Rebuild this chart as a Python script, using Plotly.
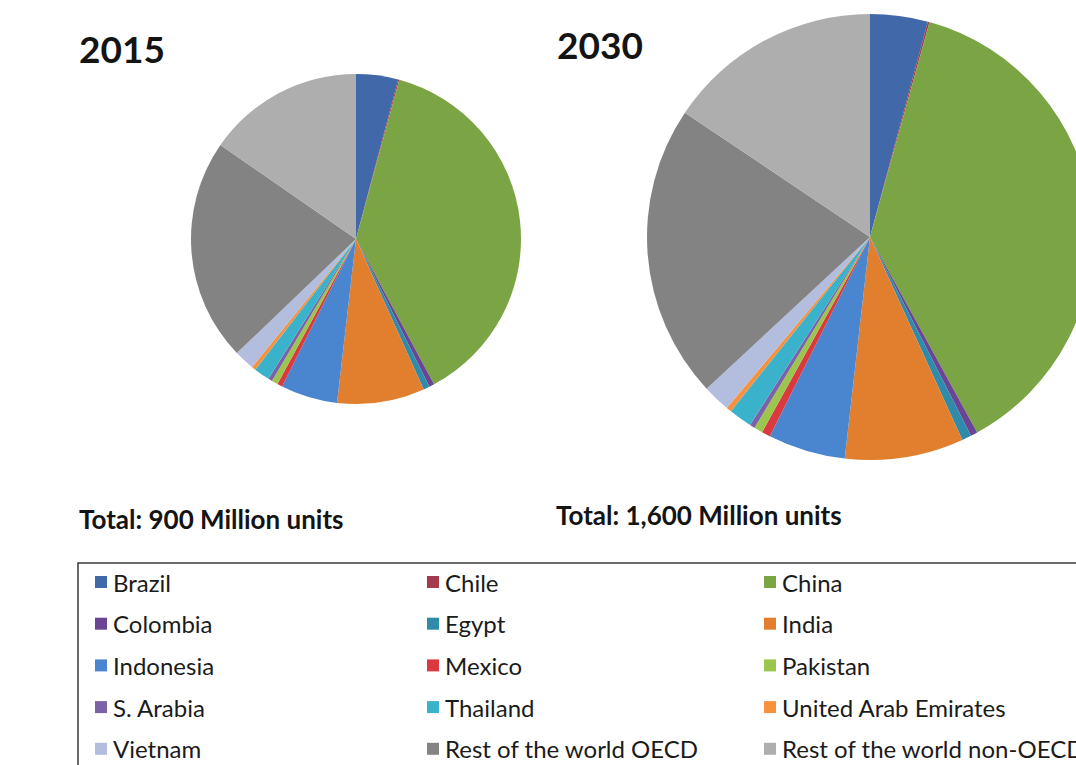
import plotly.graph_objects as go

# ---------------- data ----------------
labels = ["Brazil", "Chile", "China", "Colombia", "Egypt", "India", "Indonesia",
          "Mexico", "Pakistan", "S. Arabia", "Thailand", "United Arab Emirates",
          "Vietnam", "Rest of the world OECD", "Rest of the world non-OECD"]
units_2015 = [37, 1, 341, 4.5, 5.5, 77, 50, 4.5, 5.5, 3.5, 14, 3.5, 18, 196, 138]
units_2030 = [67, 2, 605, 8, 11, 138, 90, 10, 10, 6, 27, 6, 32, 342, 250]
titles = ["2015", "2030"]
totals = ["Total: 900 Million units", "Total: 1,600 Million units"]

# ---------------- styles ----------------
colors = ["#4169AA", "#A33A4E", "#7BA444", "#6B4593", "#2E8BAA", "#E27F2E",
          "#4A86CF", "#D9393F", "#9BC64E", "#7B62A8", "#3AB2CC", "#F7913D",
          "#B3BEDF", "#838383", "#AEAEAE"]

W, H = 1100, 765


def px(x):
    return x / W


def py(y):
    return 1 - y / H


fig = go.Figure()
fig.add_trace(go.Pie(
    labels=labels, values=units_2015, sort=False, direction="clockwise",
    rotation=0, textinfo="none", hoverinfo="label+value+percent",
    marker=dict(colors=colors, line=dict(width=0)),
    domain=dict(x=[px(191), px(521)], y=[py(404), py(74)]),
    showlegend=False, name="2015"))
fig.add_trace(go.Pie(
    labels=labels, values=units_2030, sort=False, direction="clockwise",
    rotation=0, textinfo="none", hoverinfo="label+value+percent",
    marker=dict(colors=colors, line=dict(width=0)),
    domain=dict(x=[px(647), px(1093)], y=[py(460), py(14)]),
    showlegend=False, name="2030"))

annotations = []
shapes = []
font_bold = "Lato"
# titles
for t, (x, y) in zip(titles, [(77, 48), (555, 44)]):
    annotations.append(dict(text="<b>%s</b>" % t, x=px(x), y=py(y), xref="paper", yref="paper",
                            xanchor="left", yanchor="middle", showarrow=False,
                            font=dict(family=font_bold, size=37, color="#141414")))
for t, (x, y) in zip(totals, [(77, 519), (554, 515)]):
    annotations.append(dict(text="<b>%s</b>" % t, x=px(x), y=py(y), xref="paper", yref="paper",
                            xanchor="left", yanchor="middle", showarrow=False,
                            font=dict(family=font_bold, size=26, color="#141414")))

# legend box (extends beyond the visible page as in the reference)
shapes.append(dict(type="rect", xref="paper", yref="paper",
                   x0=px(78), x1=px(1098), y0=py(790), y1=py(563),
                   line=dict(color="#3A3A3A", width=1.5), fillcolor="rgba(0,0,0,0)"))
col_x = [95, 427, 764]
row_y0, row_dy = 582, 41.7
sw = 12
for i, (lab, col) in enumerate(zip(labels, colors)):
    cx = col_x[i % 3]
    cy = row_y0 + (i // 3) * row_dy
    shapes.append(dict(type="rect", xref="paper", yref="paper",
                       x0=px(cx), x1=px(cx + sw), y0=py(cy + sw / 2), y1=py(cy - sw / 2),
                       line=dict(width=0), fillcolor=col))
    annotations.append(dict(text=lab, x=px(cx + sw + 4), y=py(cy), xref="paper", yref="paper",
                            xanchor="left", yanchor="middle", showarrow=False,
                            font=dict(family="Lato", size=24, color="#1B1B1B")))

fig.update_layout(width=W, height=H, margin=dict(l=0, r=0, t=0, b=0),
                  paper_bgcolor="white", plot_bgcolor="white",
                  annotations=annotations, shapes=shapes, showlegend=False)

fig.write_html("out.html",
               post_script="document.documentElement.style.overflow='hidden';"
                           "document.body.style.overflow='hidden';")
